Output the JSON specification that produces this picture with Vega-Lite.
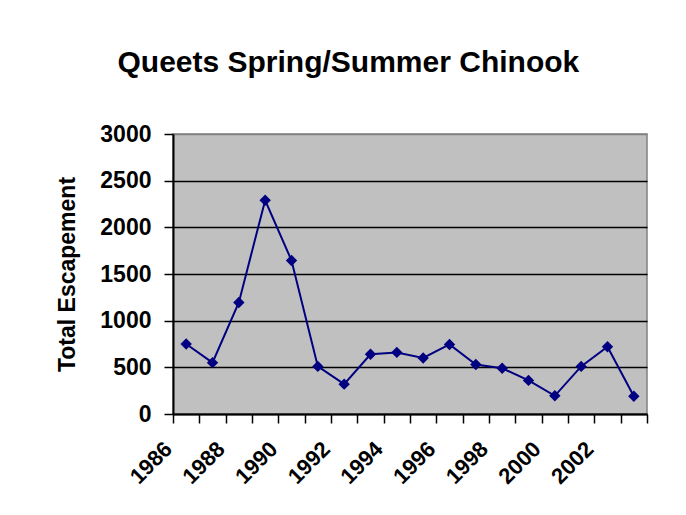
{
  "$schema": "https://vega.github.io/schema/vega-lite/v6.json",
  "width": 474,
  "height": 280,
  "padding": {"left": 56, "top": 48, "right": 10, "bottom": 5},
  "background": "white",
  "title": {
    "text": "Queets Spring/Summer Chinook",
    "font": "Liberation Sans",
    "fontSize": 30,
    "fontWeight": "bold",
    "color": "black",
    "anchor": "middle",
    "frame": "bounds",
    "offset": 45,
    "dx": -5
  },
  "data": {
    "values": [
      {"year": 1986, "escapement": 750},
      {"year": 1987, "escapement": 550},
      {"year": 1988, "escapement": 1195},
      {"year": 1989, "escapement": 2290},
      {"year": 1990, "escapement": 1645},
      {"year": 1991, "escapement": 510},
      {"year": 1992, "escapement": 320},
      {"year": 1993, "escapement": 640},
      {"year": 1994, "escapement": 660},
      {"year": 1995, "escapement": 600},
      {"year": 1996, "escapement": 745},
      {"year": 1997, "escapement": 530},
      {"year": 1998, "escapement": 490},
      {"year": 1999, "escapement": 360},
      {"year": 2000, "escapement": 195},
      {"year": 2001, "escapement": 510},
      {"year": 2002, "escapement": 720},
      {"year": 2003, "escapement": 190}
    ]
  },
  "encoding": {
    "x": {
      "field": "year",
      "type": "quantitative",
      "scale": {"domain": [1985.5, 2003.5], "nice": false, "zero": false},
      "axis": {
        "title": null,
        "values": [1985.5, 1986.5, 1987.5, 1988.5, 1989.5, 1990.5, 1991.5, 1992.5, 1993.5, 1994.5, 1995.5, 1996.5, 1997.5, 1998.5, 1999.5, 2000.5, 2001.5, 2002.5, 2003.5],
        "labelExpr": "(datum.value + 0.5) % 2 == 0 && datum.value < 2003 ? format(datum.value + 0.5, 'd') : ''",
        "labelAngle": -45,
        "labelAlign": "right",
        "labelBaseline": "top",
        "labelOffset": -12,
        "labelPadding": 15,
        "labelFont": "Liberation Sans",
        "labelFontSize": 22,
        "labelFontWeight": "bold",
        "labelColor": "black",
        "labelOverlap": false,
        "labelBound": false,
        "labelFlush": false,
        "grid": false,
        "tickSize": 9,
        "tickColor": "black",
        "tickWidth": 1.5,
        "domainColor": "black",
        "domainWidth": 2
      }
    },
    "y": {
      "field": "escapement",
      "type": "quantitative",
      "scale": {"domain": [0, 3000], "nice": false},
      "axis": {
        "title": "Total Escapement",
        "titleFont": "Liberation Sans",
        "titleFontSize": 23,
        "titleFontWeight": "bold",
        "titleColor": "black",
        "titlePadding": 20,
        "values": [0, 500, 1000, 1500, 2000, 2500, 3000],
        "format": "d",
        "labelFont": "Liberation Sans",
        "labelFontSize": 23,
        "labelFontWeight": "bold",
        "labelColor": "black",
        "labelPadding": 13,
        "labelFlush": false,
        "tickSize": 9,
        "tickColor": "black",
        "tickWidth": 1.5,
        "domainColor": "black",
        "domainWidth": 2,
        "grid": true,
        "gridColor": {"condition": {"test": "datum.value == 3000", "value": "#808080"}, "value": "black"},
        "gridWidth": 1.5,
        "gridOpacity": 1
      }
    }
  },
  "layer": [
    {"mark": {"type": "line", "color": "#000080", "strokeWidth": 2}},
    {"mark": {"type": "point", "shape": "diamond", "filled": true, "color": "#000080", "size": 130, "opacity": 1}}
  ],
  "config": {
    "view": {"fill": "#C0C0C0", "stroke": "#808080", "strokeWidth": 1.5}
  }
}
